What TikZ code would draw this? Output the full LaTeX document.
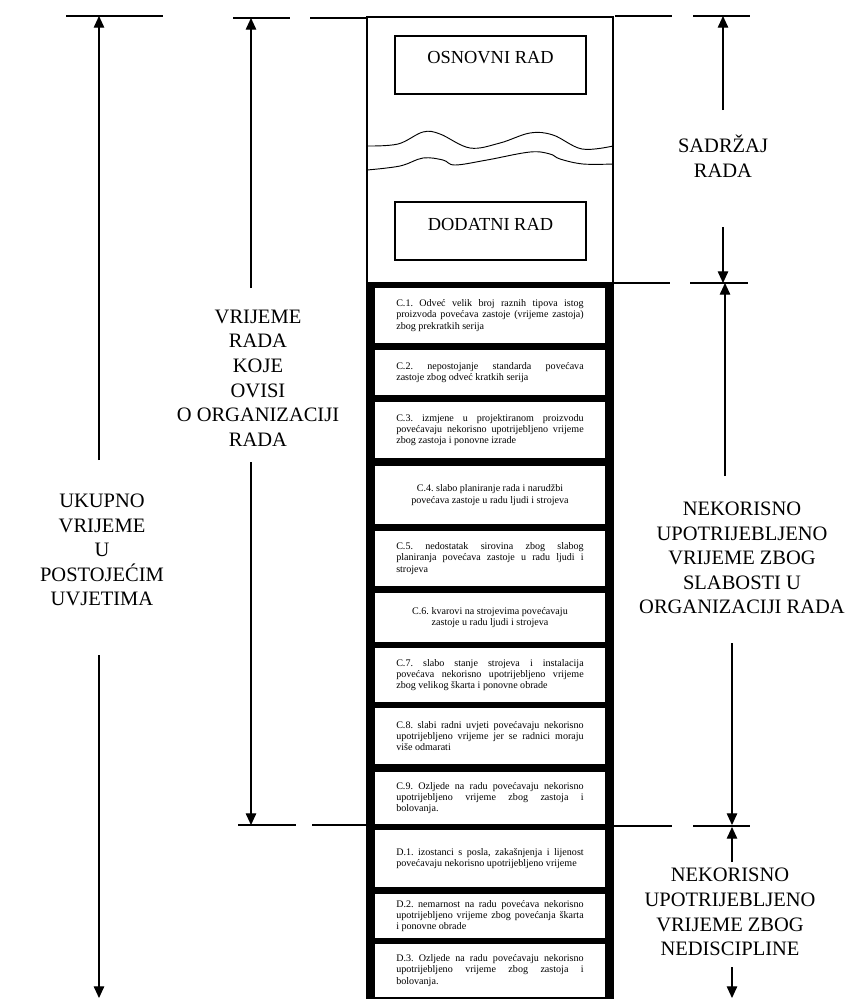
\documentclass[tikz,border=0pt]{standalone}
\usepackage{fontspec}
\setmainfont{Liberation Serif}
\usetikzlibrary{arrows.meta,fit,positioning}
\hbadness=10000

\newcommand{\justpar}[1]{\parbox{160pt}{#1}}
\newcommand{\centpar}[1]{\parbox{160pt}{\centering #1}}

\tikzset{
  thinline/.style={line width=1pt},
  dimarrow/.style={line width=1pt, -{Triangle[length=10pt,width=9pt]}},
  biglabel/.style={font=\fontsize{17.5}{21}\selectfont, align=center, inner sep=0pt},
  boxlabel/.style={font=\fontsize{15.7}{19}\selectfont, inner sep=0pt},
  workbox/.style={draw, line width=1pt, inner sep=0pt},
  causebox/.style={fill=white, inner sep=0pt, minimum width=6.9cm, font=\fontsize{8.6}{9.5}\selectfont\frenchspacing}
}

\begin{document}
\begin{tikzpicture}[x=0.03cm, y=-0.03cm]
\useasboundingbox (0,0) rectangle (851,999);

% column: content of work
\draw[thinline] (367,17) rectangle (613,283);
\node[workbox, fit={(395,36) (586,94)}] (osnovnibox) {};
\node[boxlabel] (osnovni) at ([yshift=0.21cm]osnovnibox.center) {OSNOVNI RAD};
\node[workbox, fit={(395,202) (586,260)}] (dodatnibox) {};
\node[boxlabel] (dodatni) at ([yshift=0.21cm]dodatnibox.center) {DODATNI RAD};
\draw[line width=0.8pt] plot [smooth, tension=0.6] coordinates {(367,146) (398,144) (423,132) (440,134) (470,148) (500,143) (530,133) (553,135) (582,149) (613,146)};
\draw[line width=0.8pt] plot [smooth, tension=0.6] coordinates {(367,170) (400,166) (423,158) (443,160) (455,165) (487,160) (530,152) (550,154) (560,159) (583,164) (613,164)};

% column: lost time
\fill[black] (366,283) rectangle (614,999);
\foreach \bx/\ya/\yb/\fmt/\txt in {
  c1/288/343/\justpar/{C.1. Odveć velik broj raznih tipova istog\linebreak proizvoda povećava zastoje (vrijeme zastoja)\linebreak zbog prekratkih serija},
  c2/350/395/\justpar/{C.2. nepostojanje standarda povećava\linebreak zastoje zbog odveć kratkih serija},
  c3/402/458/\justpar/{C.3. izmjene u projektiranom proizvodu\linebreak povećavaju nekorisno upotrijebljeno vrijeme\linebreak zbog zastoja i ponovne izrade},
  c4/466/524/\centpar/{C.4. slabo planiranje rada i narudžbi\linebreak povećava zastoje u radu ljudi i strojeva},
  c5/531/586/\justpar/{C.5. nedostatak sirovina zbog slabog\linebreak planiranja povećava zastoje u radu ljudi i\linebreak strojeva},
  c6/593/642/\centpar/{C.6. kvarovi na strojevima povećavaju\linebreak zastoje u radu ljudi i strojeva},
  c7/648/702/\justpar/{C.7. slabo stanje strojeva i instalacija\linebreak povećava nekorisno upotrijebljeno vrijeme\linebreak zbog velikog škarta i ponovne obrade},
  c8/708/764/\justpar/{C.8. slabi radni uvjeti povećavaju nekorisno\linebreak upotrijebljeno vrijeme jer se radnici moraju\linebreak više odmarati},
  c9/772/824/\justpar/{C.9. Ozljede na radu povećavaju nekorisno\linebreak upotrijebljeno vrijeme zbog zastoja i\linebreak bolovanja.},
  d1/830/887/\justpar/{D.1. izostanci s posla, zakašnjenja i lijenost\linebreak povećavaju nekorisno upotrijebljeno vrijeme},
  d2/894/938/\justpar/{D.2. nemarnost na radu povećava nekorisno\linebreak upotrijebljeno vrijeme zbog povećanja škarta\linebreak i ponovne obrade},
  d3/944/997/\justpar/{D.3. Ozljede na radu povećavaju nekorisno\linebreak upotrijebljeno vrijeme zbog zastoja i\linebreak bolovanja.}}
  \node[causebox, minimum height={(\yb-\ya)*0.03cm}] (\bx) at (490,{(\ya+\yb)/2}) {\fmt{\txt}};

% labels
\node[biglabel] (sadrzaj) at (723,156) {SADRŽAJ\\RADA};
\node[biglabel] (vrijemerada) at (258,378) {VRIJEME\\RADA\\KOJE\\OVISI\\O ORGANIZACIJI\\RADA};
\node[biglabel] (ukupno) at (102,550) {UKUPNO\\VRIJEME\\U\\POSTOJEĆIM\\UVJETIMA};
\node[biglabel] (slabosti) at (742,558) {NEKORISNO\\UPOTRIJEBLJENO\\VRIJEME ZBOG\\SLABOSTI U\\ORGANIZACIJI RADA};
\node[biglabel] (nedisciplina) at (730,912) {NEKORISNO\\UPOTRIJEBLJENO\\VRIJEME ZBOG\\NEDISCIPLINE};

% extension lines
\foreach \xa/\xb/\yy in {66/163/16, 233/290/18, 310/367/18, 615/672/16, 693/750/16,
  613/670/283, 690/748/283, 238/296/825, 312/366/825, 614/672/826, 693/750/826}
  \draw[thinline] (\xa,\yy) -- (\xb,\yy);

% dimension arrows
\foreach \nm/\xx/\yy in {ukA/99/460, ukB/99/16, ukC/99/655, ukD/99/998,
  orA/251/288, orB/251/18, orC/251/462, orD/251/825,
  saA/723/110, saB/723/16, saC/723/227, saD/723/283,
  slA/725/476, slB/725/283, slC/732/643, slD/732/825,
  neA/732/862, neB/732/827, neC/732/967, neD/732/998}
  \coordinate (\nm) at (\xx,\yy);
\draw[dimarrow] (ukA) -- (ukB);
\draw[dimarrow] (ukC) -- (ukD);
\draw[dimarrow] (orA) -- (orB);
\draw[dimarrow] (orC) -- (orD);
\draw[dimarrow] (saA) -- (saB);
\draw[dimarrow] (saC) -- (saD);
\draw[dimarrow] (slA) -- (slB);
\draw[dimarrow] (slC) -- (slD);
\draw[dimarrow] (neA) -- (neB);
\draw[dimarrow] (neC) -- (neD);
\end{tikzpicture}
\end{document}
